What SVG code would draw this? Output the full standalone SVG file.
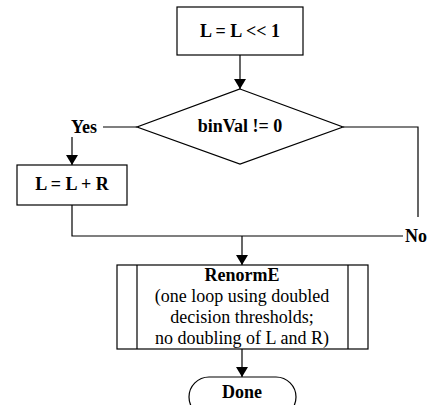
<svg xmlns="http://www.w3.org/2000/svg" width="431" height="405" viewBox="0 0 431 405">
<style>
.s{fill:#fff;stroke:#000;stroke-width:1.2}
.c{fill:none;stroke:#000;stroke-width:1.2}
text{font-family:"Liberation Serif","Times New Roman",serif;font-size:18px;fill:#000}
.b{font-weight:bold}
.m{text-anchor:middle}
</style>
<defs>
<marker id="a" markerWidth="10" markerHeight="12" refX="10" refY="6" orient="auto" markerUnits="userSpaceOnUse">
<path d="M0,0 L10,6 L0,12 Z" fill="#000"/>
</marker>
</defs>
<g id="connectors">
<path class="c" d="M240,55 V89" marker-end="url(#a)"/>
<path class="c" d="M137,127 H103"/>
<path class="c" d="M72,137 V165" marker-end="url(#a)"/>
<path class="c" d="M343,127 H418 V217"/>
<path class="c" d="M72,205 V236 H403"/>
<path class="c" d="M242,236 V265" marker-end="url(#a)"/>
<path class="c" d="M242,349 V377" marker-end="url(#a)"/>
<text class="b" x="71" y="133">Yes</text>
<text class="b" x="405" y="242">No</text>
</g>
<g id="shift">
<rect class="s" x="177" y="7" width="126" height="48"/>
<text class="b m" x="240" y="37">L = L &lt;&lt; 1</text>
</g>
<g id="decision">
<polygon class="s" points="240,89 343,127 240,164 137,127"/>
<text class="b m" x="240" y="132">binVal != 0</text>
</g>
<g id="add">
<rect class="s" x="17" y="165" width="110" height="40"/>
<text class="b m" x="72" y="190">L = L + R</text>
</g>
<g id="renorm">
<rect class="s" x="117" y="265" width="251" height="84"/>
<path class="c" d="M137,265 V349 M348,265 V349"/>
<text class="b m" x="242" y="281">RenormE</text>
<text class="m" x="242" y="302">(one loop using doubled</text>
<text class="m" x="242" y="323">decision thresholds;</text>
<text class="m" x="242" y="344">no doubling of L and R)</text>
</g>
<g id="done">
<rect class="s" x="189" y="377" width="107" height="40" rx="20" ry="20"/>
<text class="b m" x="242" y="398">Done</text>
</g>
</svg>
